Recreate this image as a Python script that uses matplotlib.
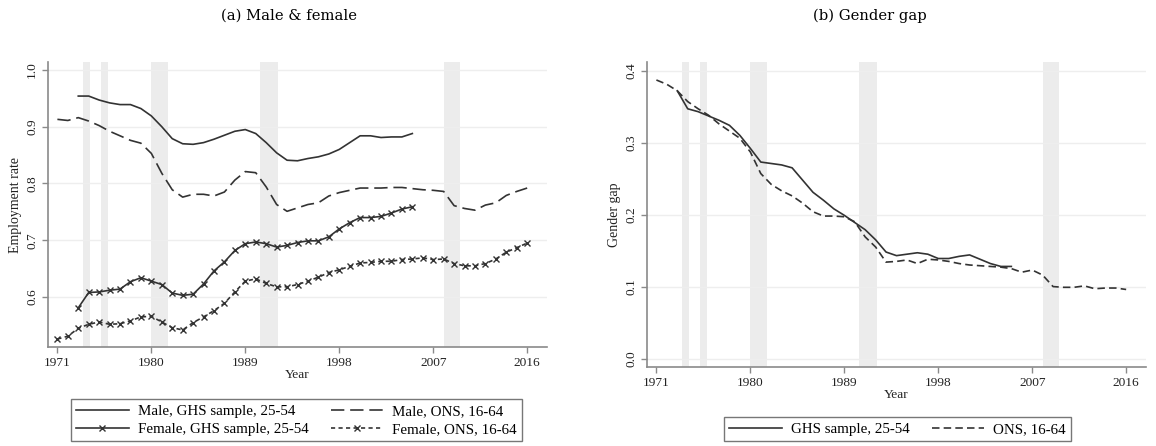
import matplotlib
matplotlib.use("Agg")
import matplotlib.pyplot as plt
import numpy as np

# ---------------- data ----------------
years_ons = list(range(1971, 2017))
years_ghs = list(range(1973, 2006))

male_ghs = [0.954, 0.954, 0.947, 0.942, 0.939, 0.939, 0.932, 0.919, 0.900, 0.879,
            0.870, 0.869, 0.872, 0.878, 0.885, 0.892, 0.895, 0.888, 0.872, 0.854,
            0.841, 0.840, 0.844, 0.847, 0.852, 0.860, 0.872, 0.884, 0.884, 0.881,
            0.882, 0.882, 0.888]
female_ghs = [0.581, 0.608, 0.609, 0.612, 0.614, 0.627, 0.634, 0.628, 0.622, 0.607,
              0.603, 0.605, 0.623, 0.646, 0.662, 0.682, 0.694, 0.697, 0.694, 0.688,
              0.691, 0.696, 0.699, 0.699, 0.706, 0.720, 0.731, 0.740, 0.740, 0.742,
              0.748, 0.755, 0.759]
male_ons = [0.913, 0.911, 0.916, 0.910, 0.902, 0.892, 0.884, 0.876, 0.871, 0.853,
            0.818, 0.789, 0.776, 0.781, 0.781, 0.778, 0.785, 0.806, 0.821, 0.819,
            0.794, 0.763, 0.751, 0.757, 0.763, 0.766, 0.778, 0.784, 0.788, 0.792,
            0.792, 0.792, 0.793, 0.793, 0.791, 0.789, 0.788, 0.786, 0.761, 0.756,
            0.753, 0.762, 0.766, 0.779, 0.786, 0.792]
female_ons = [0.526, 0.531, 0.545, 0.552, 0.556, 0.552, 0.553, 0.558, 0.565, 0.566,
              0.556, 0.546, 0.542, 0.555, 0.565, 0.576, 0.589, 0.609, 0.628, 0.632,
              0.624, 0.618, 0.618, 0.622, 0.628, 0.635, 0.643, 0.648, 0.654, 0.660,
              0.661, 0.663, 0.663, 0.666, 0.667, 0.669, 0.666, 0.667, 0.659, 0.655,
              0.655, 0.659, 0.667, 0.679, 0.687, 0.695]

gap_ghs = [0.372, 0.347, 0.343, 0.337, 0.331, 0.324, 0.310, 0.292, 0.273, 0.271,
           0.269, 0.265, 0.248, 0.231, 0.220, 0.208, 0.199, 0.189, 0.179, 0.165,
           0.148, 0.143, 0.145, 0.147, 0.145, 0.139, 0.139, 0.142, 0.144, 0.138,
           0.132, 0.128, 0.128]
gap_ons = [0.387, 0.381, 0.372, 0.357, 0.347, 0.338, 0.326, 0.316, 0.306, 0.287,
           0.257, 0.242, 0.233, 0.226, 0.216, 0.204, 0.198, 0.198, 0.197, 0.190,
           0.169, 0.155, 0.134, 0.135, 0.137, 0.132, 0.138, 0.137, 0.135, 0.132,
           0.130, 0.129, 0.128, 0.127, 0.125, 0.120, 0.123, 0.116, 0.100, 0.099,
           0.099, 0.101, 0.097, 0.098, 0.098, 0.096]

recessions = [(1973.5, 1974.1), (1975.2, 1975.8), (1980.0, 1981.6),
              (1990.4, 1992.1), (2008.0, 2009.6)]
xticks = [1971, 1980, 1989, 1998, 2007, 2016]

# ---------------- style ----------------
SERIF = ["Liberation Serif", "DejaVu Serif"]
plt.rcParams["font.family"] = SERIF
LC = "#333333"
SPINE = "#8a8a8a"
GRID = "#eeeeee"
SHADE = "#ececec"

fig = plt.figure(figsize=(11.56, 4.46), dpi=100)
axL = fig.add_axes([48/1156, 99/446, 499/1156, 285/446])
axR = fig.add_axes([647/1156, 79/446, 499/1156, 305/446])


def style(ax, ylim, yticks, ylabel, ylabels):
    ax.set_xlim(1970.1, 2017.9)
    ax.set_ylim(*ylim)
    for a, b in recessions:
        ax.axvspan(a, b, color=SHADE, lw=0, zorder=0)
    for t in yticks:
        ax.axhline(t, color=GRID, lw=1.0, zorder=0.5)
    ax.set_xticks(xticks)
    ax.set_xticklabels([str(x) for x in xticks], fontsize=9.6)
    ax.set_yticks(yticks)
    ax.set_yticklabels(ylabels, fontsize=9.6, rotation=90, va="center")
    for s in ["top", "right"]:
        ax.spines[s].set_visible(False)
    for s in ["left", "bottom"]:
        ax.spines[s].set_color(SPINE)
        ax.spines[s].set_linewidth(1.2)
    ax.tick_params(colors=SPINE, labelcolor="#222222", length=4, width=1.0, pad=3)
    ax.set_xlabel("Year", fontsize=9.6, labelpad=0, color="#222222")
    ax.set_ylabel(ylabel, fontsize=10, labelpad=3, color="#222222")


style(axL, (0.512, 1.014), [0.6, 0.7, 0.8, 0.9, 1.0], "Employment rate",
      ["0.6", "0.7", "0.8", "0.9", "1.0"])
style(axR, (-0.0117, 0.412), [0.0, 0.1, 0.2, 0.3, 0.4], "Gender gap",
      ["0.0", "0.1", "0.2", "0.3", "0.4"])

lw = 1.2
axL.plot(years_ghs, male_ghs, color=LC, lw=lw, ls="-", label="Male, GHS sample, 25-54")
axL.plot(years_ons, male_ons, color=LC, lw=lw, ls=(0, (8, 3.5)), label="Male, ONS, 16-64")
axL.plot(years_ghs, female_ghs, color=LC, lw=lw, ls="-", marker="x", ms=4, mew=1.0,
         label="Female, GHS sample, 25-54")
axL.plot(years_ons, female_ons, color=LC, lw=lw, ls=(0, (2.5, 2)), marker="x", ms=4,
         mew=1.0, label="Female, ONS, 16-64")

axR.plot(years_ghs, gap_ghs, color=LC, lw=lw, ls="-", label="GHS sample, 25-54")
axR.plot(years_ons, gap_ons, color=LC, lw=lw, ls=(0, (4.5, 2.5)), label="ONS, 16-64")

leg_kw = dict(fontsize=10.8, frameon=True, fancybox=False, edgecolor="#555555",
              handlelength=3.5, columnspacing=1.5, borderpad=0.35,
              labelspacing=0.3, handletextpad=0.6, borderaxespad=0.0)

hL, lL = axL.get_legend_handles_labels()
legL = fig.legend([hL[0], hL[2], hL[1], hL[3]], [lL[0], lL[2], lL[1], lL[3]],
                  ncol=2, loc="lower center", bbox_to_anchor=(296.5/1156, 5/446),
                  **leg_kw)
legL.get_frame().set_linewidth(1.0)

hR, lR = axR.get_legend_handles_labels()
legR = fig.legend(hR, lR, ncol=2, loc="lower center",
                  bbox_to_anchor=(897.5/1156, 5/446), **leg_kw)
legR.get_frame().set_linewidth(1.0)

fig.text(289/1156, 1 - 16/446, "(a) Male & female", ha="center", va="center",
         fontsize=10.6, family=["DejaVu Serif"])
fig.text(870/1156, 1 - 16/446, "(b) Gender gap", ha="center", va="center",
         fontsize=10.6, family=["DejaVu Serif"])

fig.savefig("out.png", dpi=100, facecolor="white")
